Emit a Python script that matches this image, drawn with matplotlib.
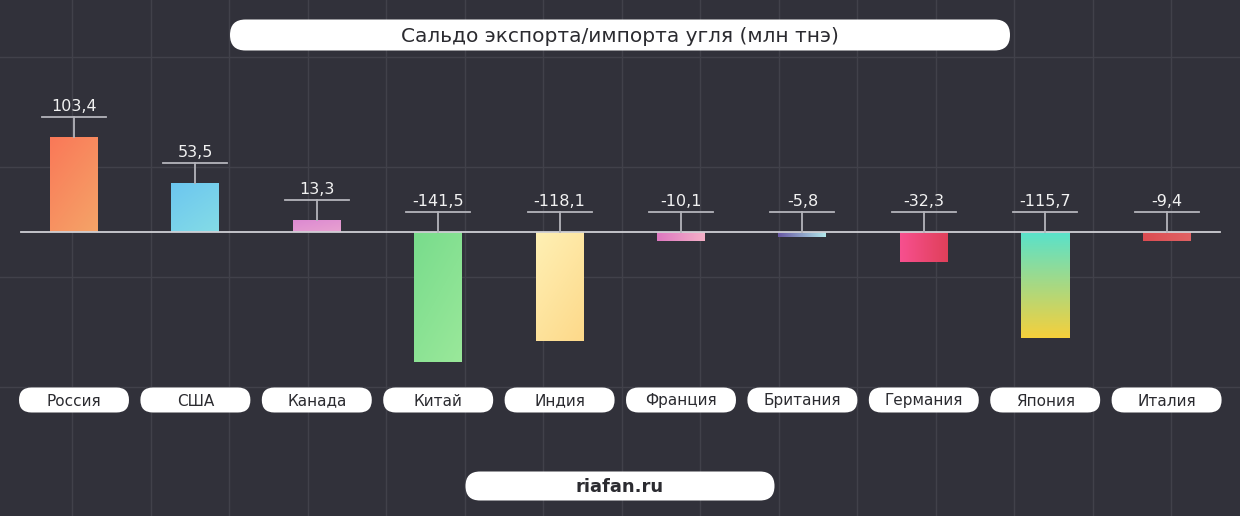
import numpy as np
import matplotlib.pyplot as plt
from matplotlib.patches import FancyBboxPatch
from matplotlib.colors import to_rgb

# Данные
countries = ['Россия', 'США', 'Канада', 'Китай', 'Индия',
             'Франция', 'Британия', 'Германия', 'Япония', 'Италия']
values = [103.4, 53.5, 13.3, -141.5, -118.1, -10.1, -5.8, -32.3, -115.7, -9.4]
labels = ['103,4', '53,5', '13,3', '-141,5', '-118,1',
          '-10,1', '-5,8', '-32,3', '-115,7', '-9,4']
# цвет (начало, конец) градиента каждого столбика
grad_start = ['#fa7858', '#6cc6f0', '#dc88d2', '#78dc8c', '#fff0b4',
              '#de78c0', '#6858a4', '#f7508f', '#58e2cc', '#dc4c52']
grad_end = ['#f5a468', '#84dce6', '#e8a2d0', '#9ae89a', '#fdd98a',
            '#f4b0c8', '#b0e6ea', '#e0405a', '#f5d03c', '#e06264']
grad_dir = ['diag', 'diag', 'diag', 'diag', 'diag',
            'horiz', 'horiz', 'horiz', 'vert', 'horiz']

title = 'Сальдо экспорта/импорта угля (млн тнэ)'
source = 'riafan.ru'

BG = '#31313a'
GRID = '#41414a'
W, H = 1240, 516
plt.rcParams['font.family'] = ['DejaVu Sans']

fig = plt.figure(figsize=(W / 100, H / 100), dpi=100, facecolor=BG)

# фон в пикселях
bg = fig.add_axes([0, 0, 1, 1], zorder=0)
bg.set_xlim(0, W)
bg.set_ylim(H, 0)
bg.axis('off')
for gx in np.arange(72, W, 78.5):
    bg.axvline(gx, color=GRID, lw=1)
for gy in [57, 167, 277, 387]:
    bg.axhline(gy, color=GRID, lw=1)

# основная ось: x - индекс страны, y - значение
ax = fig.add_axes([0, 0, 1, 1], zorder=1)
ax.patch.set_alpha(0)
ax.axis('off')
step = 121.4  # пикселей на категорию
scale = 0.92  # пикселей на единицу
x0_px, zero_px = 74, H - 232
xlim = (-x0_px / step, (W - x0_px) / step)
ylim = (-zero_px / scale, (H - zero_px) / scale)

x = np.arange(len(countries))
bars = ax.bar(x, values, width=48 / step, color='none', zorder=2)

n = 64
u, v = np.meshgrid(np.linspace(0, 1, n), np.linspace(0, 1, n))
for rect, c0, c1, d in zip(bars, grad_start, grad_end, grad_dir):
    if d == 'horiz':
        t = u
    elif d == 'vert':
        t = v
    else:
        t = 0.4 * u + 0.6 * v
    a, b = np.array(to_rgb(c0)), np.array(to_rgb(c1))
    img = a[None, None, :] * (1 - t[..., None]) + b[None, None, :] * t[..., None]
    bx, by = rect.get_x(), rect.get_y()
    bw, bh = rect.get_width(), rect.get_height()
    top, bot = max(by, by + bh), min(by, by + bh)
    im = ax.imshow(img, extent=(bx, bx + bw, bot, top), origin='upper',
                   aspect='auto', zorder=2, interpolation='bilinear')
    im.set_clip_path(rect)
    ax.add_patch(rect)

ax.set_xlim(*xlim)
ax.set_ylim(*ylim)

# нулевая линия
ax.plot([(21 - x0_px) / step, (1220 - x0_px) / step], [0, 0],
        color='#cfcfd4', lw=1.3, zorder=3)

# скобки и подписи значений
off = 20 / scale
half = 32 / step
for xi, val, lab in zip(x, values, labels):
    base = max(val, 0)
    yb = base + off
    ax.plot([xi - half, xi + half], [yb, yb], color='#b4b4bb', lw=1.3, zorder=3)
    ax.plot([xi, xi], [yb, base], color='#b4b4bb', lw=1.3, zorder=3)
    ax.annotate(lab, (xi, yb), xytext=(0, 4), textcoords='offset points',
                ha='center', va='baseline', color='#f2f2f2', fontsize=11.5,
                zorder=4)


def pill(cx, cy, w, h, text, fs, weight='normal'):
    r = h / 2
    for k in range(12, 0, -1):
        g = FancyBboxPatch((cx - w / 2 + r - k, cy - h / 2 - k + r), w - 2 * r + 2 * k,
                           h - 2 * r + 2 * k,
                           boxstyle='round,pad=0,rounding_size=%f' % (r + k),
                           fc='white', ec='none', alpha=0.04, zorder=1)
        bg.add_patch(g)
    p = FancyBboxPatch((cx - w / 2, cy - h / 2), w, h,
                       boxstyle='round,pad=0,rounding_size=%f' % r,
                       fc='white', ec='none', zorder=2)
    bg.add_patch(p)
    bg.text(cx, cy + 1, text, ha='center', va='center', color='#2b2b30',
            fontsize=fs, fontweight=weight, zorder=3)


# подписи стран в «таблетках» под столбиками
for xi, name in zip(x, countries):
    px = ax.transData.transform((xi, 0))[0]
    pill(px, 400, 110, 25, name, 11)

pill(620, 35, 780, 31, title, 14.5)
pill(620, 486, 309, 29, source, 13, weight='bold')

fig.savefig('out.png', dpi=100, facecolor=BG)
